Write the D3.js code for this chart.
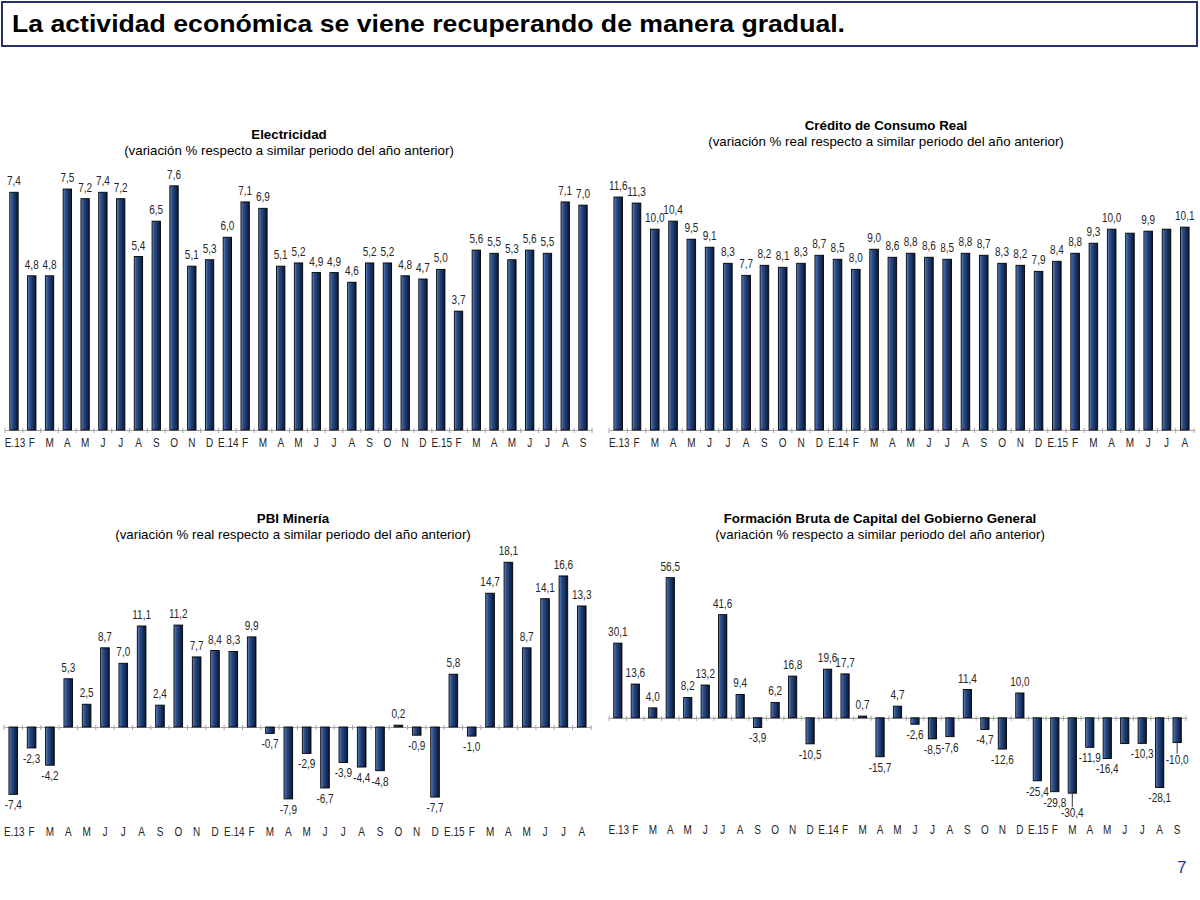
<!DOCTYPE html>
<html><head><meta charset="utf-8">
<script src="https://cdn.jsdelivr.net/npm/d3@7/dist/d3.min.js"></script>
<style>
body{margin:0;background:#fff;}
svg{display:block;}
</style></head>
<body>
<svg id="chart" width="1200" height="900"></svg>
<script>
// ---------- DATA ----------
const catsS = ["E.13","F","M","A","M","J","J","A","S","O","N","D","E.14","F","M","A","M","J","J","A","S","O","N","D","E.15","F","M","A","M","J","J","A","S"];
const catsA = catsS.slice(0, 32);

const electricidad = [7.4,4.8,4.8,7.5,7.2,7.4,7.2,5.4,6.5,7.6,5.1,5.3,6.0,7.1,6.9,5.1,5.2,4.9,4.9,4.6,5.2,5.2,4.8,4.7,5.0,3.7,5.6,5.5,5.3,5.6,5.5,7.1,7.0];
const credito = [11.6,11.3,10.0,10.4,9.5,9.1,8.3,7.7,8.2,8.1,8.3,8.7,8.5,8.0,9.0,8.6,8.8,8.6,8.5,8.8,8.7,8.3,8.2,7.9,8.4,8.8,9.3,10.0,9.8,9.9,10.0,10.1];
const creditoUnlabeled = [28, 30];
const mineria = [-7.4,-2.3,-4.2,5.3,2.5,8.7,7.0,11.1,2.4,11.2,7.7,8.4,8.3,9.9,-0.7,-7.9,-2.9,-6.7,-3.9,-4.4,-4.8,0.2,-0.9,-7.7,5.8,-1.0,14.7,18.1,8.7,14.1,16.6,13.3];
const fbk = [30.1,13.6,4.0,56.5,8.2,13.2,41.6,9.4,-3.9,6.2,16.8,-10.5,19.6,17.7,0.7,-15.7,4.7,-2.6,-8.5,-7.6,11.4,-4.7,-12.6,10.0,-25.4,-29.8,-30.4,-11.9,-16.4,-10.4,-10.3,-28.1,-10.0];
const fbkUnlabeled = [29];

const pageTitle = "La actividad económica se viene recuperando de manera gradual.";

// ---------- DRAW ----------
const svg = d3.select("#chart");
const defs = svg.append("defs");
const grad = defs.append("linearGradient").attr("id","barGrad").attr("x1","0%").attr("x2","100%").attr("y1","0%").attr("y2","0%");
[["0%","#7196c9"],["25%","#2f5290"],["60%","#1b3566"],["100%","#0b1830"]].forEach(([o,c])=>grad.append("stop").attr("offset",o).attr("stop-color",c));

// title box
svg.append("rect").attr("x",2).attr("y",2).attr("width",1195).attr("height",44)
  .attr("fill","#fff").attr("stroke","#26306e").attr("stroke-width",2);
svg.append("text").attr("x",12).attr("y",32).text(pageTitle)
  .attr("font-family","Liberation Sans, Arial, sans-serif").attr("font-weight","bold")
  .attr("font-size",24).attr("fill","#000")
  .attr("textLength",833).attr("lengthAdjust","spacingAndGlyphs");

svg.append("text").attr("x",1177).attr("y",873).text("7")
  .attr("font-family","Liberation Sans, Arial, sans-serif").attr("font-size",17).attr("fill","#1f3a9e");

const labelFont = "'Liberation Sans', Arial, sans-serif";
const titleFont = "'Liberation Sans', Arial, sans-serif";
const NARROW = 0.8;

function narrowText(g, x, y, txt, size){
  return g.append("text")
    .attr("transform",`translate(${x},${y}) scale(${NARROW},1)`)
    .attr("text-anchor","middle").attr("font-family",labelFont)
    .attr("font-size",size).attr("fill","#262626").text(txt);
}

function panel(cfg){
  const g = svg.append("g");
  const x = d3.scaleBand().domain(d3.range(cfg.values.length)).range(cfg.xr).paddingInner(0.53).paddingOuter(0.27);
  const y = d3.scaleLinear().domain(cfg.yd).range(cfg.yr);
  const y0 = y(0);

  // titles
  g.append("text").attr("x",cfg.tx).attr("y",cfg.ty).attr("text-anchor","middle")
    .attr("font-family",titleFont).attr("font-weight","bold").attr("font-size",13.3).text(cfg.title);
  g.append("text").attr("x",cfg.tx).attr("y",cfg.ty+16).attr("text-anchor","middle")
    .attr("font-family",titleFont).attr("font-size",13.3).text(cfg.subtitle);

  // axis line + ticks
  const axis = d3.axisBottom(x).tickSize(0).tickFormat(i=>cfg.cats[i]);
  const ag = g.append("g").attr("transform",`translate(0,${y0})`).call(axis);
  ag.select(".domain").attr("stroke","#a6a6a6").attr("stroke-width",1.2);
  ag.selectAll(".tick text").remove();
  const bounds = d3.range(cfg.values.length+1).map(i=> i===0 ? cfg.xr[0] : (i===cfg.values.length ? cfg.xr[1] : x(i) - x.step()*x.paddingInner()/2));
  g.selectAll(".tk").data(bounds).join("line")
    .attr("x1",d=>d).attr("x2",d=>d).attr("y1",y0-2).attr("y2",y0+3)
    .attr("stroke","#a6a6a6").attr("stroke-width",1);

  // x labels
  cfg.cats.forEach((d,i)=>{
    narrowText(g, x(i)+x.bandwidth()/2 + (d.length>1?1:0), cfg.xly, d, 12.5);
  });

  // bars
  g.selectAll(".bar").data(cfg.values).join("rect")
    .attr("x",(d,i)=>x(i)).attr("width",x.bandwidth())
    .attr("y",d=>Math.min(y(d),y0)).attr("height",d=>Math.max(1.5,Math.abs(y(d)-y0)))
    .attr("fill","url(#barGrad)").attr("stroke","#000").attr("stroke-width",0.9);

  // value labels
  const fmt = v => v.toFixed(1).replace(".",",");
  const extra = cfg.extra || {};
  cfg.values.forEach((v,i)=>{
    if ((cfg.skip||[]).includes(i)) return;
    const cx = x(i)+x.bandwidth()/2;
    const dy = extra[i] || 0;
    const ly = v>=0 ? y(v)-7 : y(v)+15+dy;
    if (dy) {
      g.append("line").attr("x1",cx).attr("x2",cx).attr("y1",y(v)).attr("y2",ly-10)
        .attr("stroke","#333").attr("stroke-width",1);
    }
    narrowText(g, cx, ly, fmt(v), 12.5);
  });
}

panel({title:"Electricidad", subtitle:"(variación % respecto a similar periodo del año anterior)",
  tx:289, ty:139, cats:catsS, values:electricidad,
  xr:[5,592], yd:[0,8], yr:[430,173], xly:447});

panel({title:"Crédito de Consumo Real", subtitle:"(variación % real respecto a similar periodo del año anterior)",
  tx:886, ty:130, cats:catsA, values:credito, skip:creditoUnlabeled,
  xr:[609,1194], yd:[0,12], yr:[430,189], xly:447});

panel({title:"PBI Minería", subtitle:"(variación % real respecto a similar periodo del año anterior)",
  tx:293, ty:523, cats:catsA, values:mineria,
  xr:[4,591], yd:[-10,20], yr:[818,545], xly:836});

panel({title:"Formación Bruta de Capital del Gobierno General", subtitle:"(variación % respecto a similar periodo del año anterior)",
  tx:880, ty:523, cats:catsS, values:fbk, skip:fbkUnlabeled, extra:{26:9, 32:6},
  xr:[609,1186], yd:[-40,60], yr:[817,569], xly:834});
</script>
</body></html>
